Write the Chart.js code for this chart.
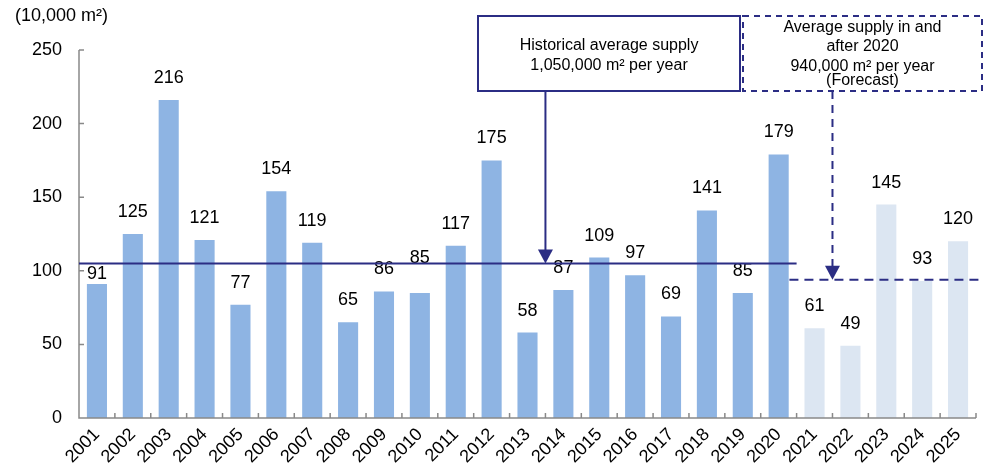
<!DOCTYPE html>
<html>
<head>
<meta charset="utf-8">
<script src="https://cdn.jsdelivr.net/npm/chart.js@4/dist/chart.umd.min.js"></script>
<style>
  html, body { margin: 0; padding: 0; background: #ffffff; }
  #wrap { width: 984px; height: 471px; }
</style>
</head>
<body>
<div id="wrap"><canvas id="supplyChart" width="984" height="471"></canvas></div>
<script>
// Annual office floor supply (10,000 m²), 2021 onward are forecasts
const years = ['2001','2002','2003','2004','2005','2006','2007','2008','2009','2010',
               '2011','2012','2013','2014','2015','2016','2017','2018','2019','2020',
               '2021','2022','2023','2024','2025'];
const supply = [91, 125, 216, 121, 77, 154, 119, 65, 86, 85,
                117, 175, 58, 87, 109, 97, 69, 141, 85, 179,
                61, 49, 145, 93, 120];
const yTickValues = [0, 50, 100, 150, 200, 250];
const firstForecastYear = '2021';
const historicalAverage = 105;   // 1,050,000 m² per year
const forecastAverage = 94;      // 940,000 m² per year
const unitLabel = '(10,000 m²)';
const historicalNote = ['Historical average supply', '1,050,000 m² per year'];
const forecastNote = ['Average supply in and', 'after 2020', '940,000 m² per year', '(Forecast)'];

const FONT = '"Liberation Sans", Arial, Helvetica, sans-serif';
const NAVY = '#2B2D84';
const AXIS = '#898989';
const forecastIndex = years.indexOf(firstForecastYear);
// a few value labels are moved off the average line
const labelShift = { '2001': 12, '2010': -13 };

const decorations = {
  id: 'supplyDecor',
  afterDatasetsDraw(chart) {
    const { ctx, chartArea: area, scales: { x, y } } = chart;
    const n = years.length;
    ctx.save();

    // axes with inward tick marks
    ctx.strokeStyle = AXIS;
    ctx.lineWidth = 1.5;
    ctx.beginPath();
    ctx.moveTo(area.left, area.top);
    ctx.lineTo(area.left, area.bottom);
    ctx.lineTo(area.right, area.bottom);
    yTickValues.forEach(v => {
      const py = y.getPixelForValue(v);
      ctx.moveTo(area.left, py);
      ctx.lineTo(area.left + 5, py);
    });
    for (let i = 0; i <= n; i++) {
      const px = x.getPixelForValue(i - 0.5);
      ctx.moveTo(px, area.bottom);
      ctx.lineTo(px, area.bottom - 5);
    }
    ctx.stroke();

    // value labels above each bar
    const meta = chart.getDatasetMeta(0);
    ctx.fillStyle = '#000';
    ctx.font = '18px ' + FONT;
    ctx.textAlign = 'center';
    ctx.textBaseline = 'middle';
    meta.data.forEach((bar, i) => {
      const shift = labelShift[years[i]] || 0;
      ctx.fillText(String(supply[i]), bar.x, bar.y - 22 + shift);
    });

    // historical average line (solid) up to end of 2020
    const yHist = y.getPixelForValue(historicalAverage);
    const histEnd = x.getPixelForValue(forecastIndex - 0.5);
    ctx.strokeStyle = NAVY;
    ctx.fillStyle = NAVY;
    ctx.lineWidth = 2;
    ctx.setLineDash([]);
    ctx.beginPath();
    ctx.moveTo(area.left, yHist);
    ctx.lineTo(histEnd, yHist);
    ctx.stroke();

    // forecast average line (dashed)
    const yFc = y.getPixelForValue(forecastAverage);
    ctx.setLineDash([9, 6]);
    ctx.beginPath();
    ctx.moveTo(x.getPixelForValue(forecastIndex - 0.7), yFc);
    ctx.lineTo(area.right + 8, yFc);
    ctx.stroke();

    // note boxes
    const boxTop = 16, boxBottom = 91;
    const box1 = { l: 478, r: 740 };
    const box2 = { l: 743, r: 982 };
    ctx.setLineDash([]);
    ctx.strokeRect(box1.l, boxTop, box1.r - box1.l, boxBottom - boxTop);
    ctx.setLineDash([6, 5]);
    ctx.strokeRect(box2.l, boxTop, box2.r - box2.l, boxBottom - boxTop);

    // arrows from boxes to lines
    const arrowHead = (ax, tipY) => {
      ctx.setLineDash([]);
      ctx.beginPath();
      ctx.moveTo(ax, tipY);
      ctx.lineTo(ax - 7.5, tipY - 14);
      ctx.lineTo(ax + 7.5, tipY - 14);
      ctx.closePath();
      ctx.fill();
    };
    const a1 = x.getPixelForValue(12.5);
    ctx.setLineDash([]);
    ctx.beginPath();
    ctx.moveTo(a1, boxBottom);
    ctx.lineTo(a1, yHist - 12);
    ctx.stroke();
    arrowHead(a1, yHist);

    const a2 = x.getPixelForValue(20.5);
    ctx.setLineDash([8, 6]);
    ctx.beginPath();
    ctx.moveTo(a2, boxBottom);
    ctx.lineTo(a2, yFc - 12);
    ctx.stroke();
    arrowHead(a2, yFc);

    // note texts
    ctx.fillStyle = '#000';
    ctx.font = '16px ' + FONT;
    ctx.textAlign = 'center';
    ctx.textBaseline = 'middle';
    const c1 = (box1.l + box1.r) / 2;
    [46, 66].forEach((ty, i) => ctx.fillText(historicalNote[i], c1, ty));
    const c2 = (box2.l + box2.r) / 2;
    [28, 47, 67, 81].forEach((ty, i) => ctx.fillText(forecastNote[i], c2, ty));

    // unit label
    ctx.font = '18px ' + FONT;
    ctx.textAlign = 'left';
    ctx.fillText(unitLabel, 15, 16);

    ctx.restore();
  }
};

new Chart(document.getElementById('supplyChart'), {
  type: 'bar',
  data: {
    labels: years,
    datasets: [{
      data: supply,
      backgroundColor: ctx => ctx.dataIndex >= forecastIndex ? '#DCE6F2' : '#8EB4E3',
      borderWidth: 0,
      barPercentage: 0.56,
      categoryPercentage: 1
    }]
  },
  options: {
    responsive: false,
    animation: false,
    layout: { padding: { top: 50, right: 8, left: 0, bottom: 0 } },
    plugins: { legend: { display: false }, tooltip: { enabled: false } },
    scales: {
      x: {
        grid: { display: false, drawTicks: false },
        border: { display: false },
        ticks: {
          color: '#000',
          font: { family: FONT, size: 18 },
          maxRotation: 45,
          minRotation: 45,
          autoSkip: false,
          padding: 6
        },
        afterFit: s => { s.height = 53; }
      },
      y: {
        min: 0,
        max: 250,
        grid: { display: false, drawTicks: false },
        border: { display: false },
        afterBuildTicks: s => { s.ticks = yTickValues.map(v => ({ value: v })); },
        ticks: {
          color: '#000',
          font: { family: FONT, size: 18 },
          padding: 17
        },
        afterFit: s => { s.width = 79; }
      }
    }
  },
  plugins: [decorations]
});
</script>
</body>
</html>
